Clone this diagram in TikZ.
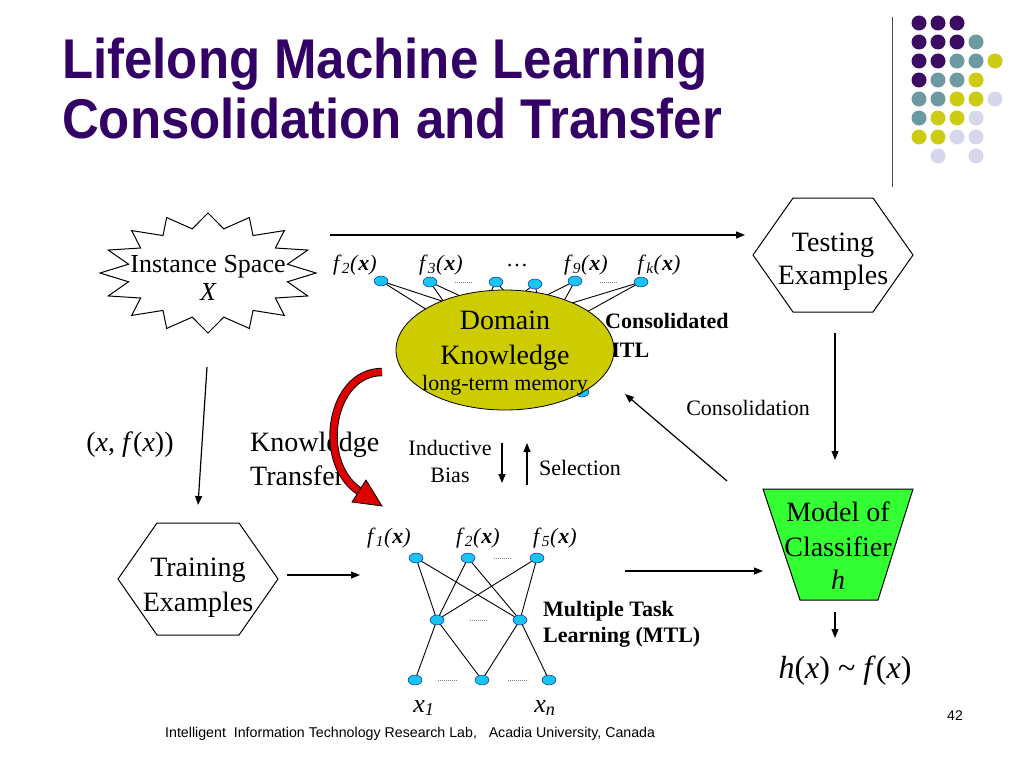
\documentclass[tikz,border=0pt]{standalone}
\usepackage{fontspec}
\setmainfont{Liberation Serif}
\setsansfont{Liberation Sans}
\usepackage{xcolor}
\usepackage{tikz}
\usetikzlibrary{shapes.geometric}
\usetikzlibrary{arrows.meta}
\usetikzlibrary{calc}

\definecolor{titlepurple}{RGB}{51,0,102}
\definecolor{dotpurple}{RGB}{60,12,98}
\definecolor{dotteal}{RGB}{108,154,160}
\definecolor{dotyellow}{RGB}{204,204,20}
\definecolor{dotlilac}{RGB}{214,214,236}
\definecolor{kbyellow}{RGB}{204,204,0}
\definecolor{unitblue}{RGB}{24,196,240}
\definecolor{modelgreen}{RGB}{51,255,51}
\definecolor{transferred}{RGB}{221,0,0}

\newcommand{\taskfn}[1]{\textit{f}\textsubscript{\itshape #1}\textit{(}\textbf{\textit{x}}\textit{)}}

\tikzset{
	unit/.style = {ellipse, draw = blue!60!black, line width = 0.4pt, fill = unitblue, minimum width = 14pt, minimum height = 10pt, inner sep = 0pt},
	link/.style = {draw = black, line width = 0.9pt},
	gap/.style = {draw = gray, line width = 0.9pt, dash pattern = on 1pt off 1pt},
	flow/.style = {draw = black, line width = 1.2pt, -{Triangle[length = 9pt, width = 7pt]}}
}

\begin{document}
\begin{tikzpicture}[x = 1pt, y = -1pt]
		\useasboundingbox (0, 0) rectangle (1024, 768);
		
		% title
		\begin{scope}[every node/.style = {anchor = base west, inner sep = 0pt, xscale = 0.91, text = titlepurple, font = \sffamily\bfseries\fontsize{56}{60}\selectfont}]
		\node (title1) at (62, 78) {Lifelong Machine Learning};
		\node (title2) at (62, 138) {Consolidation and Transfer};
		\end{scope}
		
		% corner dots
		\draw [gray!60!black, line width = 1pt] (892, 17) -- (892, 187);
		\foreach \col/\row/\dotcolor in {0/0/dotpurple, 1/0/dotpurple, 2/0/dotpurple,
			0/1/dotpurple, 1/1/dotpurple, 2/1/dotpurple, 3/1/dotteal,
			0/2/dotpurple, 1/2/dotpurple, 2/2/dotteal, 3/2/dotteal, 4/2/dotyellow,
			0/3/dotpurple, 1/3/dotteal, 2/3/dotteal, 3/3/dotyellow,
			0/4/dotteal, 1/4/dotteal, 2/4/dotyellow, 3/4/dotyellow, 4/4/dotlilac,
			0/5/dotteal, 1/5/dotyellow, 2/5/dotyellow, 3/5/dotlilac,
			0/6/dotyellow, 1/6/dotyellow, 2/6/dotlilac, 3/6/dotlilac,
			1/7/dotlilac, 3/7/dotlilac}
			\fill [\dotcolor] (919 + 19*\col, 23 + 19*\row) circle (7.5);
		
		% shapes
		\draw [line width = 1pt, fill = white] plot [variable = \k, samples at = {0, ..., 31}]
			({208 + 108*(1 - 0.25*mod(\k, 2))*cos(90 + 11.25*\k)}, {273 - 60*(1 - 0.25*mod(\k, 2))*sin(90 + 11.25*\k)}) -- cycle;
		
		\coordinate (test) at (833, 255);
		\coordinate (train) at (198, 579);
		\coordinate (model) at (838, 545);
		
		\draw [line width = 1pt]
		($(test) + (-80, 0)$) --
		($(test) + (-40, -57)$) --
		($(test) + (40, -57)$) --
		($(test) + (80, 0)$) --
		($(test) + (40, 57)$) --
		($(test) + (-40, 57)$)
		--cycle;
		
		\draw [line width = 1pt]
		($(train) + (-80, 0)$) --
		($(train) + (-41, -56)$) --
		($(train) + (41, -56)$) --
		($(train) + (80, 0)$) --
		($(train) + (41, 56)$) --
		($(train) + (-41, 56)$)
		--cycle;
		
		\draw [line width = 1pt, fill = modelgreen]
		($(model) + (-75, -56)$) --
		($(model) + (75, -56)$) --
		($(model) + (40, 55)$) --
		($(model) + (-38, 55)$)
		--cycle;
		
		% consolidated MTL network, behind the domain knowledge
		\begin{scope}[every node/.style = {anchor = base west, inner sep = 0pt, font = \bfseries\fontsize{22}{26}\selectfont}]
		\node (cons1) at (605, 328) {Consolidated};
		\node (cons2) at (599, 357) {MTL};
		\node (mtl1) at (543, 616) {Multiple Task};
		\node (mtl2) at (543, 642) {Learning (MTL)};
		\end{scope}
		
		\node (t1) [unit] at (381, 281) {};
		\node (t2) [unit] at (430, 282) {};
		\node (t3) [unit] at (496, 282) {};
		\node (t4) [unit] at (535, 284) {};
		\node (t5) [unit] at (575, 281) {};
		\node (t6) [unit] at (641, 282) {};
		\node (tx) [unit] at (582, 392) {};
		\coordinate (ha) at (467, 335);
		\coordinate (hb) at (545, 335);
		\foreach \unitname in {t1, t2, t3, t4, t5, t6}
			\draw [link] (\unitname) -- (ha) (\unitname) -- (hb);
		\draw [gap] (455, 282) -- (473, 282);
		\draw [gap] (600, 282) -- (618, 282);
		
		\node (kb) [ellipse, draw, line width = 0.8pt, fill = kbyellow, minimum width = 218pt, minimum height = 120pt] at (505, 350) {};
		
		% MTL network
		\node (o1) [unit] at (416, 558) {};
		\node (o2) [unit] at (468, 558) {};
		\node (o3) [unit] at (537, 558) {};
		\node (h1) [unit] at (437, 620) {};
		\node (h2) [unit] at (520, 620) {};
		\node (i1) [unit] at (415, 680) {};
		\node (i2) [unit] at (482, 680) {};
		\node (i3) [unit] at (549, 680) {};
		\foreach \unitname in {o1, o2, o3}
			\draw [link] (\unitname) -- (h1) (\unitname) -- (h2);
		\draw [link] (h1) -- (i1) (h1) -- (i2) (h2) -- (i2) (h2) -- (i3);
		\draw [gap] (494, 558) -- (512, 558);
		\draw [gap] (470, 620) -- (488, 620);
		\draw [gap] (438, 680) -- (458, 680);
		\draw [gap] (508, 680) -- (527, 680);
		
		% labels
		\begin{scope}[every node/.style = {anchor = base, inner sep = 0pt, font = \fontsize{28}{32}\selectfont}]
		\node (dk1) at (505, 329) {Domain};
		\node (dk2) at (505, 364) {Knowledge};
		\node (test1) at (833, 251) {Testing};
		\node (test2) at (833, 284) {Examples};
		\node (train1) at (198, 576) {Training};
		\node (train2) at (198, 611) {Examples};
		\node (model1) at (838, 521) {Model of};
		\node (model2) at (838, 556) {Classifier};
		\node (model3) at (838, 589) {\itshape h};
		\node (pair) at (130, 451) {(\textit{x}, \textit{f}(\textit{x}))};
		\node (kt1) [anchor = base west] at (250, 451) {Knowledge};
		\node (kt2) [anchor = base west] at (250, 485) {Transfer};
		\end{scope}
		
		\begin{scope}[every node/.style = {anchor = base, inner sep = 0pt, font = \fontsize{22}{26}\selectfont}]
		\node (dk3) at (505, 390) {long-term memory};
		\node (ind1) at (450, 455) {Inductive};
		\node (ind2) at (450, 482) {Bias};
		\node (sel) at (580, 475) {Selection};
		\node (consol) at (748, 415) {Consolidation};
		\node (tf2) at (355, 270) {\taskfn{2}};
		\node (tf3) at (441, 270) {\taskfn{3}};
		\node (tdots) at (517, 266) {\ldots};
		\node (tf9) at (586, 270) {\taskfn{9}};
		\node (tfk) at (659, 270) {\taskfn{k}};
		\node (of1) at (389, 543) {\taskfn{1}};
		\node (of2) at (478, 543) {\taskfn{2}};
		\node (of5) at (555, 543) {\taskfn{5}};
		\end{scope}
		
		\begin{scope}[every node/.style = {anchor = base, inner sep = 0pt, font = \fontsize{26}{30}\selectfont}]
		\node (inst1) at (208, 272) {Instance Space};
		\node (inst2) at (208, 300) {\itshape X};
		\node (x1) at (424, 712) {\itshape x\textsubscript{1}};
		\node (xn) at (545, 712) {\itshape x\textsubscript{n}};
		\end{scope}
		
		\node (approx) [anchor = base, inner sep = 0pt, font = \fontsize{32}{36}\selectfont] at (845, 678) {\textit{h}(\textit{x}) \textasciitilde{} \textit{f}(\textit{x})};
		
		% footer
		\node (footer) [anchor = base west, inner sep = 0pt, font = \sffamily\fontsize{14.2}{16}\selectfont] at (165, 737) {Intelligent\ \ Information Technology Research Lab,\ \ \ Acadia University, Canada};
		\node (page) [anchor = base, inner sep = 0pt, font = \sffamily\fontsize{14}{16}\selectfont] at (955, 720) {42};
		
		% connectors
		\coordinate (instR) at (330, 235);
		\coordinate (testL) at (745, 235);
		\coordinate (testB) at (835, 333);
		\coordinate (modelT) at (835, 460);
		\coordinate (modelB) at (835, 612);
		\coordinate (approxT) at (835, 638);
		\coordinate (modelL) at (727, 481);
		\coordinate (kbR) at (625, 394);
		\coordinate (mtlR) at (625, 571);
		\coordinate (modelIn) at (763, 571);
		\coordinate (trainR) at (287, 575);
		\coordinate (mtlL) at (360, 575);
		\coordinate (instB) at (207, 367);
		\coordinate (trainT) at (198, 505);
		\coordinate (biasT) at (502, 443);
		\coordinate (biasB) at (502, 483);
		\coordinate (selB) at (527, 485);
		\coordinate (selT) at (527, 443);
		
		\draw [flow] (instR) -- (testL);
		\draw [flow] (testB) -- (modelT);
		\draw [flow] (modelB) -- (approxT);
		\draw [flow] (modelL) -- (kbR);
		\draw [flow] (mtlR) -- (modelIn);
		\draw [flow] (trainR) -- (mtlL);
		\draw [flow] (instB) -- (trainT);
		\draw [flow] (biasT) -- (biasB);
		\draw [flow] (selB) -- (selT);
		
		% knowledge transfer arrow
		\coordinate (ks) at (382, 372);
		\coordinate (ke) at (359, 491);
		\draw [black, line width = 8.4pt] (ks) .. controls (330, 372) and (316, 462) .. (ke);
		\draw [transferred, line width = 6.6pt] (ks) .. controls (330, 372) and (316, 462) .. (ke);
		\filldraw [fill = transferred, draw = black, line width = 0.8pt] (366, 480) -- (382, 506) -- (352, 502) -- cycle;
		
		\end{tikzpicture}
\end{document}
